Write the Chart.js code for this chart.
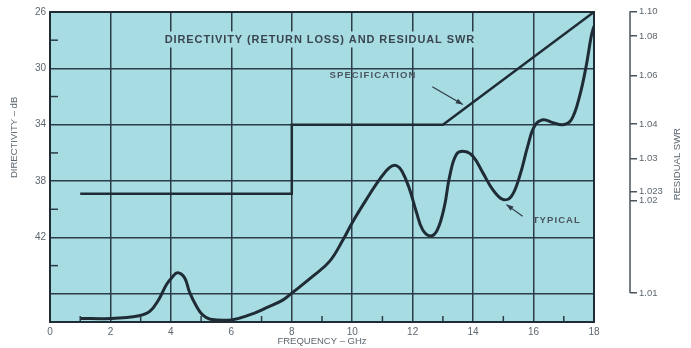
<!DOCTYPE html>
<html><head><meta charset="utf-8">
<script src="https://cdn.jsdelivr.net/npm/chart.js@4.4.1/dist/chart.umd.min.js"></script>
<style>html,body{margin:0;padding:0;background:#fff;}</style>
</head><body>
<canvas id="c" width="691" height="348"></canvas>
<script>
// ---- data ----
const freqTickStep = 2;
const freqMin = 0, freqMax = 18;
const dbMin = 26, dbMax = 48;
const dbGrid = [26, 30, 34, 38, 42, 46];
const dbTickLabels = [26, 30, 34, 38, 42];
const dbMinor = [28, 32, 36, 40, 44];
const freqMinor = [1, 3, 5, 7, 9, 11, 13, 15, 17];

const specFreq = [1, 8, 8, 13, 18];
const specDb = [38.9, 38.9, 34, 34, 26];

const typFreq = [1.0, 2.0, 2.95, 3.3, 3.6, 3.85, 4.05, 4.22, 4.45, 4.62, 4.85, 5.05, 5.3, 6.0, 6.6, 7.15, 7.7, 8.0, 8.7, 9.25, 9.7, 10.0, 10.47, 10.9, 11.23, 11.46, 11.66, 11.9, 12.13, 12.33, 12.6, 12.82, 13.05, 13.22, 13.45, 13.72, 14.0, 14.32, 14.65, 14.98, 15.26, 15.54, 15.81, 16.03, 16.31, 16.64, 16.97, 17.25, 17.52, 17.74, 17.91, 18.0];
const typDb = [47.75, 47.75, 47.55, 47.25, 46.4, 45.35, 44.8, 44.5, 44.85, 45.9, 46.9, 47.5, 47.8, 47.85, 47.5, 47.0, 46.45, 45.95, 44.75, 43.7, 42.15, 40.95, 39.3, 37.9, 37.05, 36.9, 37.35, 38.6, 40.25, 41.45, 41.9, 41.45, 39.8, 37.7, 36.1, 35.9, 36.25, 37.4, 38.6, 39.3, 39.1, 37.65, 35.5, 34.1, 33.65, 33.85, 34.0, 33.65, 32.0, 29.85, 27.7, 27.0];

const swrLabels = ['1.10', '1.08', '1.06', '1.04', '1.03', '1.023', '1.02', '1.01'];
const swrDb = [25.95, 27.7, 30.5, 33.95, 36.4, 38.75, 39.4, 45.95];

const chartTitle = 'DIRECTIVITY (RETURN LOSS) AND RESIDUAL SWR';
const leftTitle = 'DIRECTIVITY \u2013 dB';
const rightTitle = 'RESIDUAL SWR';
const bottomTitle = 'FREQUENCY \u2013 GHz';

// annotation placement (data coordinates)
const notes = {
  title: {f: 8.93, db: 27.95},
  spec: {f: 9.25, db: 30.5, text: 'SPECIFICATION', arrow: [12.65, 31.3, 13.66, 32.57]},
  typ: {f: 15.97, db: 40.8, text: 'TYPICAL', arrow: [15.64, 40.5, 15.1, 39.67]}
};

// ---- styles ----
const BG = '#a7dce2';
const INK = '#1f2c35';
const GRID = '#2c3b45';
const TXT = '#4a5560';
const LBL = '#5d6770';
const FONT = "'Liberation Sans', Arial, sans-serif";

function arrow(ctx, x1, y1, x2, y2) {
  ctx.beginPath(); ctx.moveTo(x1, y1); ctx.lineTo(x2, y2); ctx.stroke();
  const a = Math.atan2(y2 - y1, x2 - x1), L = 7, W = 2.6;
  ctx.beginPath();
  ctx.moveTo(x2, y2);
  ctx.lineTo(x2 - L * Math.cos(a) + W * Math.sin(a), y2 - L * Math.sin(a) - W * Math.cos(a));
  ctx.lineTo(x2 - L * Math.cos(a) - W * Math.sin(a), y2 - L * Math.sin(a) + W * Math.cos(a));
  ctx.closePath(); ctx.fill();
}

const deco = {
  id: 'deco',
  beforeDraw(chart) {
    const {ctx, chartArea: a} = chart;
    ctx.save(); ctx.fillStyle = BG;
    ctx.fillRect(a.left, a.top, a.right - a.left, a.bottom - a.top);
    ctx.restore();
  },
  afterDatasetsDraw(chart) {
    const {ctx, chartArea: a, scales: {x, y, y2}} = chart;
    ctx.save();
    // minor ticks
    ctx.strokeStyle = GRID; ctx.lineWidth = 1.5;
    dbMinor.forEach(v => { const py = y.getPixelForValue(v); ctx.beginPath(); ctx.moveTo(a.left, py); ctx.lineTo(a.left + 8, py); ctx.stroke(); });
    freqMinor.forEach(v => { const px = x.getPixelForValue(v); ctx.beginPath(); ctx.moveTo(px, a.bottom); ctx.lineTo(px, a.bottom - 6); ctx.stroke(); });
    // border
    ctx.strokeStyle = INK; ctx.lineWidth = 2;
    ctx.strokeRect(a.left, a.top, a.right - a.left, a.bottom - a.top);
    // chart title inside plot
    ctx.font = 'bold 11px ' + FONT;
    ctx.letterSpacing = '0.9px';
    ctx.textAlign = 'center'; ctx.textBaseline = 'middle';
    const tx = x.getPixelForValue(notes.title.f), ty = y.getPixelForValue(notes.title.db);
    const tw = ctx.measureText(chartTitle).width;
    ctx.fillStyle = BG; ctx.fillRect(tx - tw / 2 - 4, ty - 8, tw + 8, 16);
    ctx.fillStyle = '#3a4550'; ctx.fillText(chartTitle, tx, ty);
    // annotations
    ctx.font = 'bold 9.5px ' + FONT; ctx.letterSpacing = '1.1px'; ctx.textAlign = 'left'; ctx.fillStyle = TXT;
    ctx.fillText(notes.spec.text, x.getPixelForValue(notes.spec.f), y.getPixelForValue(notes.spec.db));
    ctx.fillText(notes.typ.text, x.getPixelForValue(notes.typ.f), y.getPixelForValue(notes.typ.db));
    ctx.letterSpacing = '0px';
    ctx.strokeStyle = '#2f3c46'; ctx.fillStyle = '#2f3c46'; ctx.lineWidth = 1.2;
    [notes.spec.arrow, notes.typ.arrow].forEach(ar => arrow(ctx, x.getPixelForValue(ar[0]), y.getPixelForValue(ar[1]), x.getPixelForValue(ar[2]), y.getPixelForValue(ar[3])));
    // right axis line
    ctx.strokeStyle = '#4a555e'; ctx.lineWidth = 1.5;
    ctx.beginPath();
    ctx.moveTo(y2.left, y2.getPixelForValue(swrDb[0]));
    ctx.lineTo(y2.left, y2.getPixelForValue(swrDb[swrDb.length - 1]));
    ctx.stroke();
    // axis titles (read bottom-to-top)
    ctx.font = '9.5px ' + FONT; ctx.fillStyle = LBL; ctx.textAlign = 'center';
    ctx.save(); ctx.translate(14, y.getPixelForValue(34.9)); ctx.rotate(-Math.PI / 2); ctx.fillText(leftTitle, 0, 0); ctx.restore();
    ctx.save(); ctx.translate(y2.left + 47, y.getPixelForValue(36.8)); ctx.rotate(-Math.PI / 2); ctx.fillText(rightTitle, 0, 0); ctx.restore();
    ctx.restore();
  }
};

new Chart(document.getElementById('c'), {
  type: 'line',
  data: {
    datasets: [
      { label: 'Specification', data: specFreq.map((f, i) => ({x: f, y: specDb[i]})), borderColor: INK, borderWidth: 2.5, pointRadius: 0, tension: 0, yAxisID: 'y' },
      { label: 'Typical', data: typFreq.map((f, i) => ({x: f, y: typDb[i]})), borderColor: INK, borderWidth: 3, pointRadius: 0, tension: 0.4, yAxisID: 'y' }
    ]
  },
  options: {
    responsive: false, devicePixelRatio: 1, animation: false,
    layout: { padding: { top: 12, left: 0, right: 0, bottom: 0 } },
    plugins: { legend: { display: false }, tooltip: { enabled: false } },
    scales: {
      x: {
        type: 'linear', min: freqMin, max: freqMax,
        ticks: { stepSize: freqTickStep, color: LBL, font: { size: 10, family: FONT }, padding: 4, maxRotation: 0 },
        grid: { color: GRID, lineWidth: 1.5, drawTicks: false },
        border: { display: false },
        title: { display: true, text: bottomTitle, color: LBL, font: { size: 9.5, family: FONT }, padding: { top: 0, bottom: 1 } },
        afterFit(s) { s.height = 26; }
      },
      y: {
        type: 'linear', min: dbMin, max: dbMax, reverse: true,
        afterBuildTicks(s) { s.ticks = dbGrid.map(v => ({value: v})); },
        ticks: { color: LBL, font: { size: 10, family: FONT }, padding: 4, autoSkip: false,
          callback: v => dbTickLabels.includes(v) ? String(v) : '' },
        grid: { color: GRID, lineWidth: 1.5, drawTicks: false },
        border: { display: false },
        afterFit(s) { s.width = 50; }
      },
      ygap: {
        type: 'linear', position: 'right', weight: 0, min: dbMin, max: dbMax, reverse: true,
        grid: { display: false }, border: { display: false }, ticks: { display: false },
        afterFit(s) { s.width = 36; }
      },
      y2: {
        type: 'linear', position: 'right', weight: 1, min: dbMin, max: dbMax, reverse: true,
        afterBuildTicks(s) { s.ticks = swrDb.map(v => ({value: v})); },
        ticks: { color: LBL, font: { size: 9.5, family: FONT }, padding: 2, autoSkip: false,
          callback: (v, i) => swrLabels[i] },
        grid: { display: true, drawOnChartArea: false, drawTicks: true, tickLength: 7, color: '#4a555e', lineWidth: 1.5 },
        border: { display: false },
        afterFit(s) { s.width = 61; }
      }
    }
  },
  plugins: [deco]
});
</script>
</body></html>
